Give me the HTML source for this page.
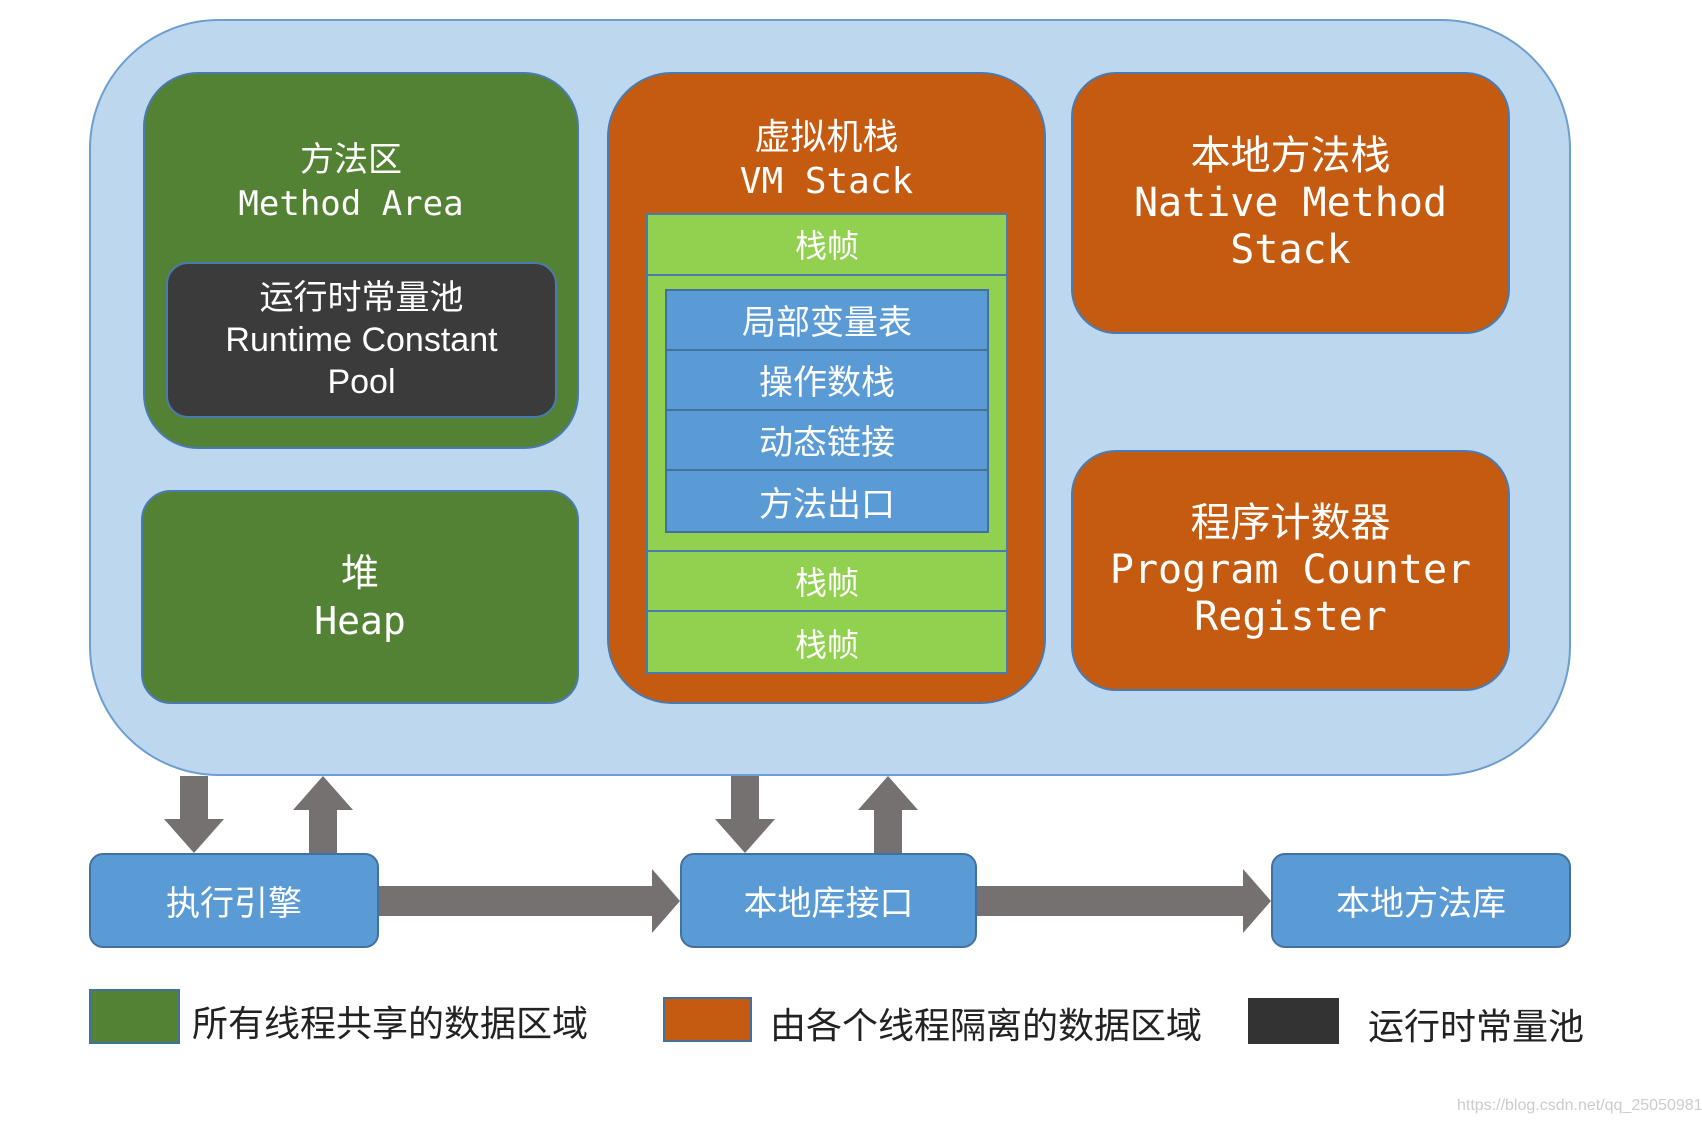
<!DOCTYPE html>
<html><head><meta charset="utf-8"><style>
body{margin:0;width:1702px;height:1122px;background:#fff;position:relative;overflow:hidden;font-family:"Liberation Sans","Noto Sans CJK SC",sans-serif}
div{box-sizing:border-box;position:absolute}
.c{display:flex;flex-direction:column;align-items:center;justify-content:center;text-align:center;color:#fff}
.m{font-family:"DejaVu Sans Mono","Liberation Mono","Noto Sans CJK SC",monospace}
</style></head><body>
<div style="left:89px;top:19px;width:1482px;height:757px;background:#bdd7ee;border:2px solid #6d9ecf;border-radius:130px"></div>
<div class="c m" style="left:143px;top:72px;width:436px;height:377px;background:#548235;border:2px solid #4a7bb0;border-radius:55px;justify-content:flex-start;padding-top:64px;font-size:34px;line-height:44px"><span style="margin-left:-20px">方法区<br>Method Area</span></div>
<div class="c" style="left:166px;top:262px;width:391px;height:156px;background:#3b3b3b;border:2px solid #4a7bb0;border-radius:22px;font-size:34px;line-height:42px">运行时常量池<br>Runtime Constant<br>Pool</div>
<div class="c m" style="left:141px;top:490px;width:438px;height:214px;background:#548235;border:2px solid #4a7bb0;border-radius:30px;font-size:38px;line-height:48px">堆<br>Heap</div>
<div class="c m" style="left:607px;top:72px;width:439px;height:632px;background:#c55a11;border:2px solid #4a7bb0;border-radius:65px;justify-content:flex-start;padding-top:42px;font-size:36px;line-height:44px">虚拟机栈<br>VM Stack</div>
<div style="left:646px;top:213px;width:362px;height:461px;background:#92d050;border:2px solid #4a7bb0"></div>
<div class="c" style="left:646px;top:213px;width:362px;height:63px;border-bottom:2px solid #4a7bb0;font-size:32px">栈帧</div>
<div class="c" style="left:646px;top:550px;width:362px;height:62px;border-top:2px solid #4a7bb0;border-bottom:2px solid #4a7bb0;font-size:32px">栈帧</div>
<div class="c" style="left:646px;top:612px;width:362px;height:62px;font-size:32px">栈帧</div>
<div style="left:665px;top:289px;width:324px;height:244px;background:#5b9bd5;border:2px solid #41719c"></div>
<div class="c" style="left:665px;top:289px;width:324px;height:62px;border-bottom:2px solid #41719c;font-size:34px">局部变量表</div>
<div class="c" style="left:665px;top:349px;width:324px;height:62px;border-bottom:2px solid #41719c;font-size:34px">操作数栈</div>
<div class="c" style="left:665px;top:409px;width:324px;height:62px;border-bottom:2px solid #41719c;font-size:34px">动态链接</div>
<div class="c" style="left:665px;top:470px;width:324px;height:62px;font-size:34px">方法出口</div>
<div class="c m" style="left:1071px;top:72px;width:439px;height:262px;background:#c55a11;border:2px solid #4a7bb0;border-radius:45px;font-size:40px;line-height:47px">本地方法栈<br>Native Method<br>Stack</div>
<div class="c m" style="left:1071px;top:450px;width:439px;height:241px;background:#c55a11;border:2px solid #4a7bb0;border-radius:45px;font-size:40px;line-height:47px">程序计数器<br>Program Counter<br>Register</div>
<svg style="position:absolute;left:0;top:0" width="1702" height="1122">
<g fill="#767171">
<polygon points="180,776 208,776 208,819 224,819 194,853 164,819 180,819"/>
<polygon points="309,853 337,853 337,810 353,810 323,776 293,810 309,810"/>
<polygon points="731,776 759,776 759,819 775,819 745,853 715,819 731,819"/>
<polygon points="874,853 902,853 902,810 918,810 888,776 858,810 874,810"/>
<polygon points="379,886 652,886 652,869 680,901 652,933 652,916 379,916"/>
<polygon points="977,886 1243,886 1243,869 1271,901 1243,933 1243,916 977,916"/>
</g></svg>
<div class="c" style="left:89px;top:853px;width:290px;height:95px;background:#5b9bd5;border:2px solid #41719c;border-radius:14px;font-size:34px">执行引擎</div>
<div class="c" style="left:680px;top:853px;width:297px;height:95px;background:#5b9bd5;border:2px solid #41719c;border-radius:14px;font-size:34px">本地库接口</div>
<div class="c" style="left:1271px;top:853px;width:300px;height:95px;background:#5b9bd5;border:2px solid #41719c;border-radius:14px;font-size:34px">本地方法库</div>
<div style="left:89px;top:989px;width:91px;height:55px;background:#548235;border:2px solid #41719c"></div>
<div style="left:192px;top:995px;font-size:36px;color:#222">所有线程共享的数据区域</div>
<div style="left:663px;top:997px;width:89px;height:45px;background:#c55a11;border:2px solid #41719c"></div>
<div style="left:770px;top:997px;font-size:36px;color:#222">由各个线程隔离的数据区域</div>
<div style="left:1248px;top:998px;width:91px;height:46px;background:#333"></div>
<div style="left:1368px;top:998px;font-size:36px;color:#222">运行时常量池</div>
<div style="left:1457px;top:1097px;font-size:16px;color:#ccc">https://blog.csdn.net/qq_25050981</div>
</body></html>
